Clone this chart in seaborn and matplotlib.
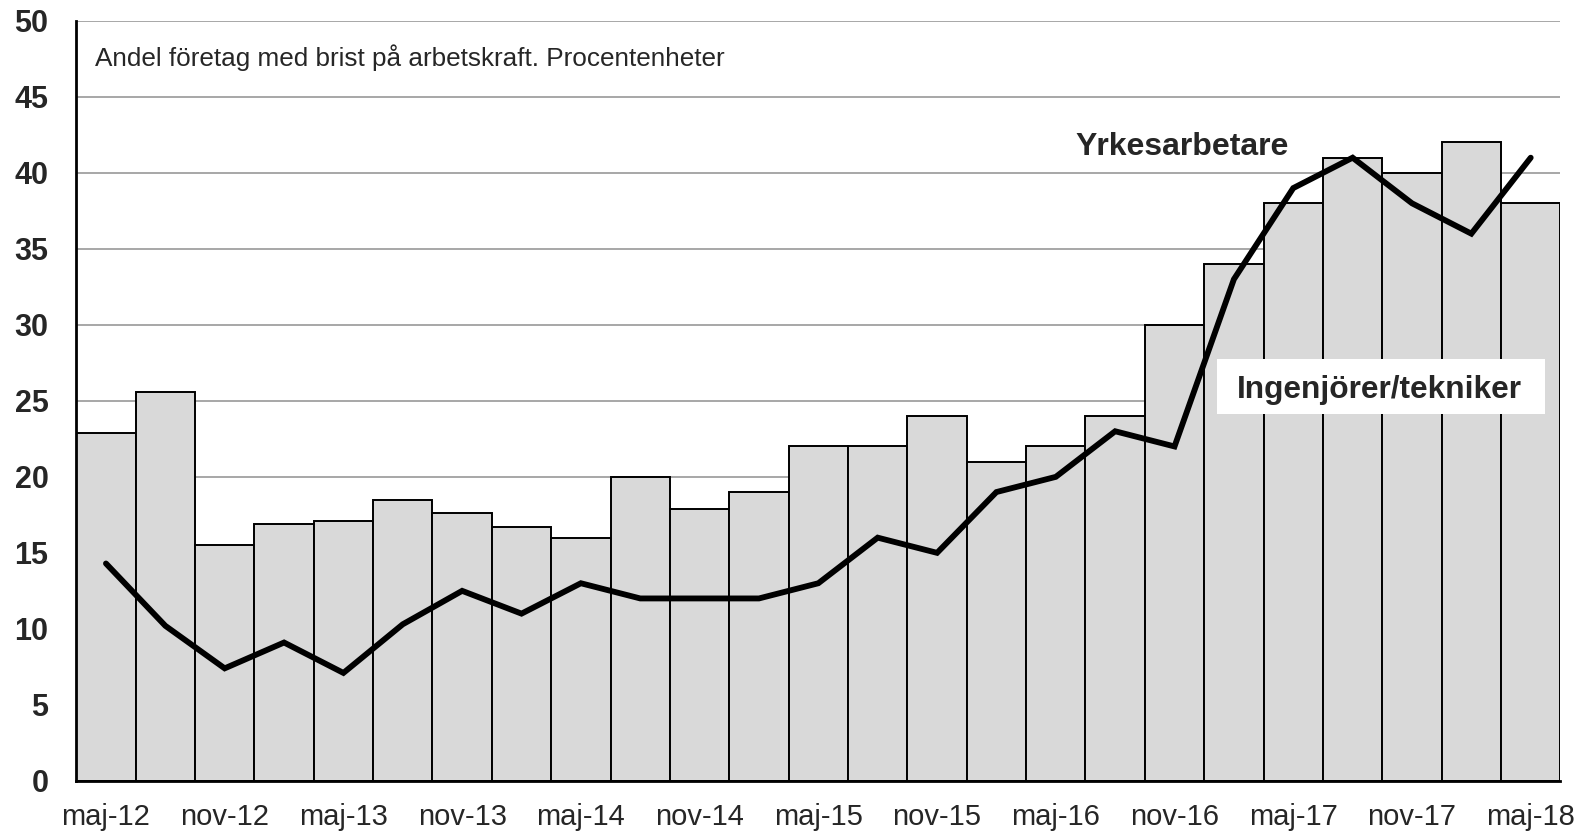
import matplotlib
matplotlib.use("Agg")
import matplotlib.pyplot as plt
from matplotlib.patches import Rectangle
import seaborn as sns
import pandas as pd

# Data
quarters = ["maj-12", "aug-12", "nov-12", "feb-13", "maj-13", "aug-13", "nov-13", "feb-14",
            "maj-14", "aug-14", "nov-14", "feb-15", "maj-15", "aug-15", "nov-15", "feb-16",
            "maj-16", "aug-16", "nov-16", "feb-17", "maj-17", "aug-17", "nov-17", "feb-18",
            "maj-18"]
ingenjorer = [22.9, 25.6, 15.5, 16.9, 17.1, 18.5, 17.6, 16.7, 16.0, 20.0, 17.9, 19.0, 22.0,
              22.0, 24.0, 21.0, 22.0, 24.0, 30.0, 34.0, 38.0, 41.0, 40.0, 42.0, 38.0]
yrkesarbetare = [14.3, 10.2, 7.4, 9.1, 7.1, 10.3, 12.5, 11.0, 13.0, 12.0, 12.0, 12.0, 13.0,
                 16.0, 15.0, 19.0, 20.0, 23.0, 22.0, 33.0, 39.0, 41.0, 38.0, 36.0, 41.0]
yticks = [0, 5, 10, 15, 20, 25, 30, 35, 40, 45, 50]

df = pd.DataFrame({"kvartal": quarters, "ing": ingenjorer, "yrk": yrkesarbetare})
df["pos"] = range(len(df))

sns.set_theme(style="white")
plt.rcParams["font.family"] = ["Liberation Sans", "DejaVu Sans"]

fig = plt.figure(figsize=(15.89, 8.36), dpi=100)
ax = fig.add_axes([0.048, 0.066, 0.934, 0.909])

for y in yticks[1:]:
    ax.axhline(y, color="#a0a0a0", lw=1.3, zorder=0)

sns.barplot(data=df, x="kvartal", y="ing", color="#d9d9d9", width=1.0,
            edgecolor="black", linewidth=1.4, saturation=1, ax=ax, zorder=2)
sns.lineplot(x=df["pos"], y=df["yrk"], color="black", lw=4.2, ax=ax, zorder=3,
             solid_joinstyle="miter")

ax.set_xlim(-0.5, len(quarters) - 0.5)
ax.set_ylim(0, 50)
ax.set_yticks(yticks)
ax.set_yticklabels([str(v) for v in yticks], fontsize=22, fontweight="bold")
ax.set_xticks(df["pos"][::2])
ax.set_xticklabels(quarters[::2], fontsize=21)
ax.tick_params(axis="x", length=0, pad=16)
ax.tick_params(axis="y", length=0, pad=20)
ax.set_xlabel("")
ax.set_ylabel("")

for s in ["top", "right"]:
    ax.spines[s].set_visible(False)
for s in ["left", "bottom"]:
    ax.spines[s].set_color("black")
    ax.spines[s].set_linewidth(2)
ax.spines["left"].set_zorder(5)
ax.spines["bottom"].set_zorder(5)

ax.text(-0.19, 47.6, "Andel företag med brist på arbetskraft. Procentenheter",
        fontsize=18.8, ha="left", va="center")
ax.text(18.13, 41.7, "Yrkesarbetare", fontsize=23, fontweight="bold",
        ha="center", va="center")
ax.add_patch(Rectangle((18.71, 24.13), 5.53, 3.6, facecolor="white",
                       edgecolor="none", zorder=6))
ax.text(21.45, 25.7, "Ingenjörer/tekniker", fontsize=22.8, fontweight="bold",
        ha="center", va="center", zorder=7)

fig.savefig("out.png", dpi=100)
